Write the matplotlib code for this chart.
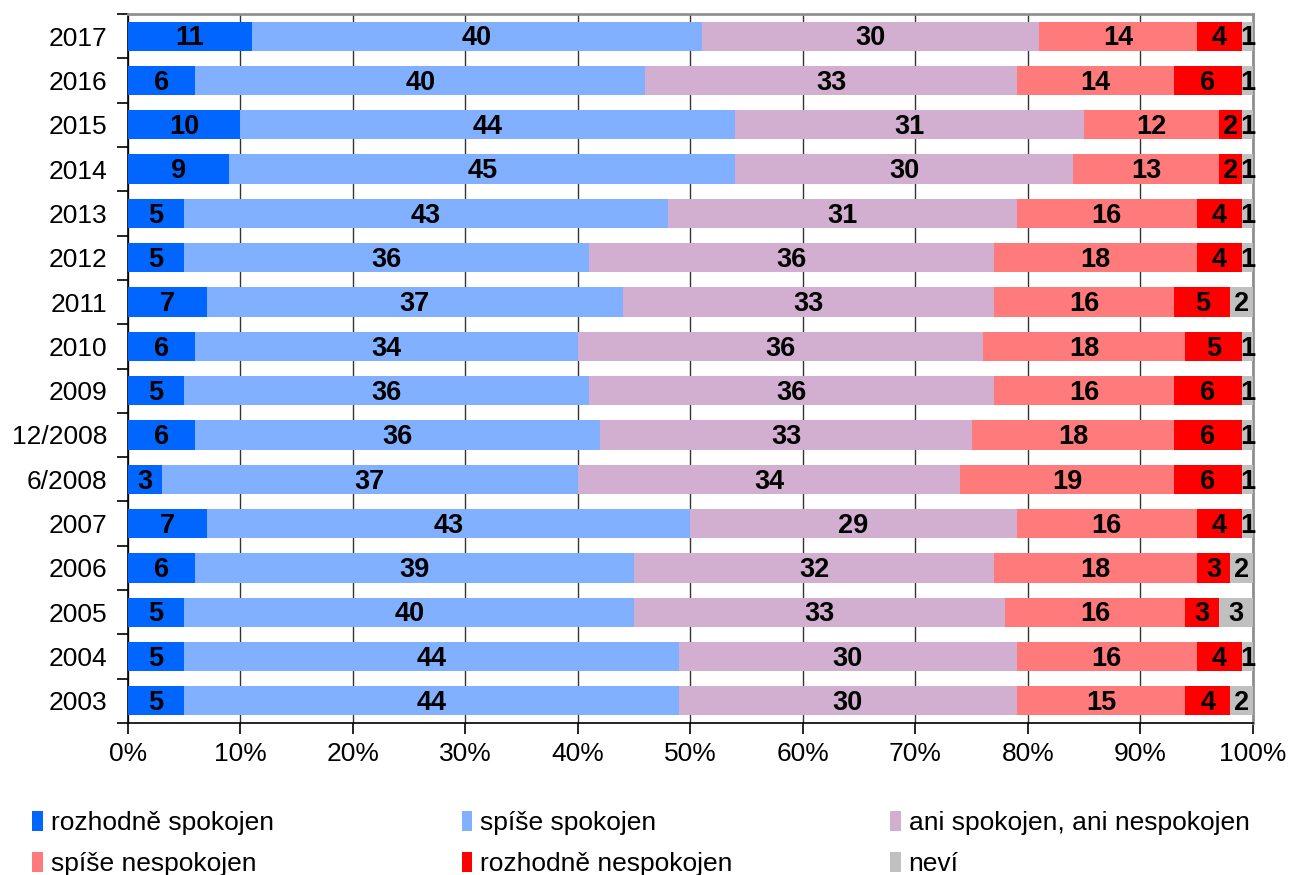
"""Spokojenost - stacked horizontal bars 2003-2017"""

import matplotlib.pyplot as plt
import numpy as np

plt.rcParams["font.family"] = ["Liberation Sans", "DejaVu Sans"]

# rows from top to bottom
years = ["2017", "2016", "2015", "2014", "2013", "2012", "2011", "2010",
         "2009", "12/2008", "6/2008", "2007", "2006", "2005", "2004", "2003"]

rozhodne_spokojen = [11, 6, 10, 9, 5, 5, 7, 6, 5, 6, 3, 7, 6, 5, 5, 5]
spise_spokojen = [40, 40, 44, 45, 43, 36, 37, 34, 36, 36, 37, 43, 39, 40, 44, 44]
ani_ani = [30, 33, 31, 30, 31, 36, 33, 36, 36, 33, 34, 29, 32, 33, 30, 30]
spise_nespokojen = [14, 14, 12, 13, 16, 18, 16, 18, 16, 18, 19, 16, 18, 16, 16, 15]
rozhodne_nespokojen = [4, 6, 2, 2, 4, 4, 5, 5, 6, 6, 6, 4, 3, 3, 4, 4]
nevi = [1, 1, 1, 1, 1, 1, 2, 1, 1, 1, 1, 1, 2, 3, 1, 2]

series = [rozhodne_spokojen, spise_spokojen, ani_ani,
          spise_nespokojen, rozhodne_nespokojen, nevi]
labels = ["rozhodně spokojen", "spíše spokojen", "ani spokojen, ani nespokojen",
          "spíše nespokojen", "rozhodně nespokojen", "neví"]
colors = ["#0066FF", "#80B0FF", "#D2AFD0", "#FF7A7A", "#FF0000", "#C0C0C0"]

fig = plt.figure(figsize=(12.9, 8.75), dpi=100)
ax = fig.add_axes([0.0992, 0.1737, 0.8721, 0.8103])

y = np.arange(len(years))[::-1]
left = np.zeros(len(years))
handles = []
for vals, lab, col in zip(series, labels, colors):
    vals = np.array(vals, dtype=float)
    bars = ax.barh(y, vals, left=left, height=0.66, color=col, label=lab,
                   zorder=3, linewidth=0)
    handles.append(bars)
    for yi, l, v in zip(y, left, vals):
        ax.text(l + v / 2, yi - 0.05, f"{v:.0f}", ha="center", va="center",
                fontsize=19.5, fontweight="bold", zorder=4)
    left += vals

ax.set_xlim(0, 100)
ax.set_ylim(-0.5, len(years) - 0.5)
ax.set_xticks(np.arange(0, 101, 10))
ax.set_xticklabels([f"{t}%" for t in range(0, 101, 10)], fontsize=19)
ax.set_yticks(y)
ax.set_yticklabels(years, fontsize=19)
ax.set_yticks(np.arange(-0.5, len(years), 1), minor=True)
ax.tick_params(axis="y", which="major", length=0, pad=15)
ax.tick_params(axis="y", which="minor", length=8, width=1.2, direction="out")
ax.tick_params(axis="x", length=8, width=1.2, direction="out", pad=6)

ax.grid(axis="x", color="#333333", linewidth=1, zorder=0)
for s in ["top", "right"]:
    ax.spines[s].set_color("#909090")
    ax.spines[s].set_linewidth(2)
ax.spines["left"].set_linewidth(1.2)
ax.spines["bottom"].set_linewidth(1.2)

# legend: three columns, two rows
col_x = [0.025, 0.358, 0.690]
for j in range(3):
    fig.legend([handles[j], handles[j + 3]], [labels[j], labels[j + 3]],
               loc="upper left", bbox_to_anchor=(col_x[j], 0.073),
               frameon=False, fontsize=19, handlelength=0.4, handleheight=0.8,
               handletextpad=0.3, labelspacing=0.63, borderaxespad=0,
               borderpad=0)

fig.savefig("out.png", dpi=100)
plt.close(fig)
